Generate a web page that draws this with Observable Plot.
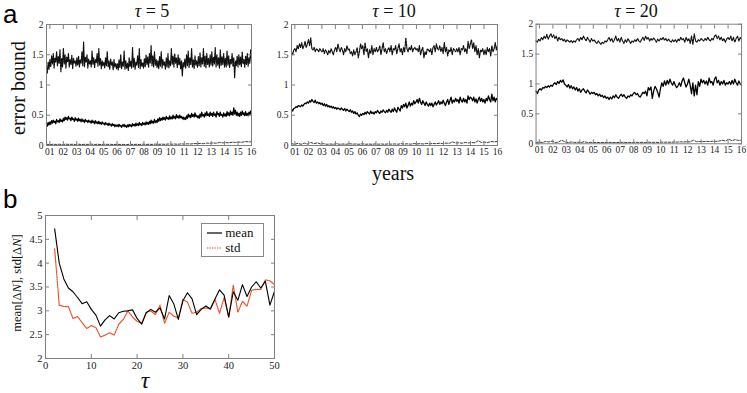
<!DOCTYPE html>
<html><head><meta charset="utf-8">
<script src="https://cdn.jsdelivr.net/npm/d3@7"></script>
<script src="https://cdn.jsdelivr.net/npm/@observablehq/plot@0.6"></script>
<style>
body{margin:0;background:#fff;}
#root{position:relative;width:747px;height:393px;overflow:hidden;background:#fff;}
.abs{position:absolute;white-space:nowrap;}
.serif{font-family:'Liberation Serif','DejaVu Serif',serif;color:#111;}
svg text{font-family:'Liberation Serif','DejaVu Serif',serif;}
</style></head>
<body><div id="root"></div>
<script>
// ---------- DATA ----------
const yearTicks = [1,2,3,4,5,6,7,8,9,10,11,12,13,14,15,16];
const yearLabels = ["01","02","03","04","05","06","07","08","09","10","11","12","13","14","15","16"];
const yearStart = 0.75, yearEnd = 16;
const errTicks = [0,0.5,1,1.5,2];

// tau = 5
const upper5 = [1.30,1.20,1.38,1.26,
1.42,1.30,1.48,1.35,1.52,1.28,1.45,1.38,1.55,1.32,1.47,1.36,1.58,1.22,1.44,1.30,
1.61,1.35,1.50,1.28,1.46,1.38,1.52,1.30,1.42,1.34,1.49,1.27,1.44,1.36,1.40,1.31,
1.45,1.33,1.48,1.30,1.42,1.36,1.55,1.32,1.71,1.30,1.46,1.38,1.50,1.28,1.43,1.35,
1.40,1.30,1.56,1.34,1.45,1.29,1.42,1.37,1.52,1.31,1.60,1.33,1.44,1.27,1.40,1.32,
1.38,1.28,1.45,1.32,1.55,1.30,1.40,1.26,1.43,1.33,1.38,1.25,1.42,1.30,1.36,1.27,
1.35,1.25,1.42,1.29,1.50,1.27,1.38,1.31,1.56,1.26,1.40,1.28,1.36,1.24,1.45,1.30,
1.40,1.28,1.62,1.30,1.44,1.26,1.38,1.33,1.48,1.29,1.60,1.27,1.42,1.31,1.37,1.28,
1.44,1.30,1.50,1.34,1.46,1.29,1.52,1.36,1.65,1.32,1.48,1.30,1.55,1.33,1.42,1.29,
1.40,1.27,1.47,1.31,1.55,1.28,1.42,1.33,1.38,1.26,1.45,1.30,1.52,1.28,1.40,1.32,
1.60,1.34,1.48,1.30,1.52,1.36,1.45,1.29,1.50,1.33,1.44,1.27,1.40,1.15,1.38,1.30,
1.43,1.28,1.50,1.32,1.56,1.29,1.45,1.34,1.60,1.30,1.42,1.27,1.48,1.33,1.40,1.29,
1.47,1.32,1.53,1.30,1.45,1.35,1.60,1.31,1.48,1.28,1.52,1.34,1.44,1.30,1.50,1.33,
1.55,1.31,1.46,1.35,1.62,1.30,1.50,1.33,1.45,1.28,1.58,1.32,1.47,1.34,1.52,1.30,
1.44,1.30,1.56,1.33,1.48,1.29,1.42,1.35,1.52,1.31,1.45,1.12,1.40,1.32,1.48,1.30,
1.50,1.33,1.46,1.30,1.55,1.35,1.42,1.29,1.48,1.34,1.52,1.31,1.45,1.36,1.58,1.40];
const middle5 = [0.36,0.32,0.38,0.34,
0.39,0.35,0.41,0.37,0.42,0.38,0.40,0.36,0.43,0.39,0.41,0.38,0.44,0.40,0.42,0.39,
0.45,0.41,0.47,0.43,0.46,0.42,0.48,0.44,0.45,0.41,0.47,0.43,0.44,0.40,0.46,0.42,
0.44,0.40,0.45,0.41,0.43,0.39,0.44,0.40,0.42,0.38,0.43,0.40,0.41,0.38,0.42,0.39,
0.40,0.37,0.42,0.38,0.40,0.36,0.41,0.37,0.39,0.36,0.40,0.36,0.38,0.35,0.39,0.36,
0.37,0.34,0.38,0.35,0.36,0.33,0.37,0.34,0.35,0.32,0.36,0.33,0.35,0.31,0.34,0.32,
0.34,0.31,0.35,0.32,0.33,0.30,0.34,0.32,0.35,0.31,0.33,0.30,0.34,0.31,0.35,0.32,
0.34,0.31,0.36,0.33,0.35,0.32,0.37,0.33,0.36,0.33,0.38,0.34,0.36,0.33,0.38,0.35,
0.37,0.34,0.39,0.35,0.38,0.35,0.40,0.36,0.42,0.37,0.40,0.37,0.43,0.38,0.41,0.38,
0.44,0.40,0.46,0.41,0.45,0.42,0.47,0.43,0.46,0.42,0.48,0.44,0.46,0.43,0.49,0.44,
0.47,0.44,0.50,0.45,0.48,0.44,0.51,0.46,0.49,0.45,0.50,0.46,0.48,0.44,0.47,0.43,
0.46,0.43,0.49,0.45,0.52,0.47,0.50,0.46,0.53,0.48,0.51,0.47,0.54,0.48,0.50,0.46,
0.49,0.45,0.52,0.47,0.55,0.49,0.51,0.47,0.54,0.49,0.56,0.50,0.52,0.48,0.55,0.50,
0.53,0.48,0.55,0.50,0.52,0.47,0.56,0.51,0.53,0.48,0.55,0.50,0.51,0.47,0.54,0.49,
0.52,0.48,0.56,0.50,0.54,0.49,0.57,0.51,0.55,0.50,0.62,0.52,0.58,0.50,0.55,0.49,
0.53,0.48,0.55,0.50,0.57,0.51,0.54,0.49,0.56,0.50,0.53,0.49,0.55,0.51,0.57,0.52];
const lower5 = [0.020,0.015,0.020,0.018,
0.020,0.015,0.022,0.018,0.020,0.017,0.021,0.016,0.020,0.018,0.022,0.017,
0.020,0.016,0.021,0.018,0.019,0.016,0.020,0.017,0.018,0.015,0.020,0.017,
0.019,0.016,0.021,0.018,0.020,0.018,0.023,0.019,0.022,0.019,0.025,0.021,
0.024,0.020,0.027,0.023,0.028,0.025,0.032,0.030,0.035,0.030,0.040,0.036,
0.042,0.038,0.050,0.044,0.048,0.045,0.055,0.050,0.058,0.052,0.065,0.060,0.062];

// tau = 10
const upper10 = [1.55,1.50,1.58,
1.60,1.55,1.65,1.60,1.68,1.62,1.70,1.60,1.65,1.72,1.62,1.68,
1.75,1.65,1.78,1.60,1.58,1.62,1.55,1.60,1.58,1.55,1.60,1.57,
1.55,1.60,1.52,1.58,1.55,1.50,1.57,1.53,1.60,1.55,1.50,1.58,
1.62,1.55,1.68,1.60,1.55,1.62,1.58,1.50,1.60,1.55,1.65,1.58,
1.60,1.52,1.55,1.48,1.58,1.50,1.55,1.62,1.45,1.55,1.68,1.60,
1.65,1.50,1.70,1.55,1.60,1.45,1.58,1.52,1.65,1.50,1.60,1.55,
1.62,1.55,1.58,1.65,1.50,1.60,1.70,1.55,1.60,1.52,1.58,1.62,
1.55,1.65,1.50,1.60,1.58,1.65,1.52,1.60,1.68,1.55,1.60,1.50,
1.62,1.55,1.78,1.60,1.55,1.62,1.58,1.65,1.55,1.60,1.62,1.58,
1.60,1.55,1.65,1.50,1.58,1.62,1.45,1.55,1.50,1.60,1.58,1.55,
1.60,1.50,1.62,1.65,1.55,1.68,1.60,1.58,1.65,1.55,1.62,1.52,
1.70,1.55,1.62,1.48,1.58,1.55,1.62,1.50,1.60,1.58,1.55,1.60,
1.55,1.62,1.50,1.60,1.58,1.65,1.55,1.60,1.52,1.72,1.60,1.68,
1.75,1.60,1.70,1.55,1.65,1.50,1.60,1.45,1.58,1.55,1.60,1.50,
1.58,1.50,1.62,1.55,1.60,1.48,1.65,1.55,1.60,1.70,1.58,1.65];
const middle10 = [0.60,0.57,0.61,
0.62,0.64,0.63,0.66,0.65,0.64,0.67,0.65,0.68,0.70,0.69,0.72,
0.70,0.74,0.72,0.76,0.73,0.71,0.75,0.70,0.72,0.69,0.71,0.68,
0.70,0.66,0.69,0.65,0.68,0.64,0.66,0.63,0.65,0.62,0.64,0.61,
0.63,0.60,0.62,0.61,0.59,0.62,0.60,0.58,0.61,0.57,0.60,0.58,
0.56,0.59,0.55,0.57,0.53,0.56,0.52,0.54,0.50,0.48,0.52,0.50,
0.53,0.51,0.55,0.52,0.56,0.54,0.52,0.57,0.53,0.55,0.52,0.56,
0.54,0.58,0.55,0.53,0.57,0.55,0.59,0.56,0.54,0.58,0.55,0.60,
0.57,0.55,0.60,0.56,0.62,0.58,0.55,0.63,0.60,0.57,0.66,0.62,
0.68,0.64,0.70,0.62,0.66,0.72,0.65,0.70,0.67,0.74,0.69,0.72,
0.76,0.70,0.78,0.72,0.68,0.74,0.70,0.66,0.72,0.68,0.65,0.70,
0.66,0.70,0.64,0.68,0.72,0.67,0.70,0.74,0.68,0.72,0.69,0.75,
0.70,0.66,0.72,0.76,0.68,0.74,0.80,0.70,0.75,0.72,0.78,0.73,
0.76,0.70,0.80,0.74,0.72,0.78,0.72,0.76,0.70,0.82,0.76,0.80,
0.78,0.74,0.80,0.72,0.77,0.70,0.76,0.80,0.73,0.78,0.72,0.76,
0.70,0.78,0.74,0.82,0.76,0.72,0.85,0.74,0.80,0.72,0.78,0.75];
const lower10 = [0.030,0.020,0.035,0.020,
0.040,0.025,0.050,0.030,0.045,0.025,0.030,0.020,0.025,0.020,0.030,0.020,
0.025,0.020,0.030,0.022,0.025,0.020,0.028,0.020,0.024,0.020,0.026,0.021,
0.025,0.020,0.027,0.022,0.026,0.021,0.030,0.024,0.028,0.022,0.032,0.025,
0.030,0.025,0.035,0.028,0.033,0.030,0.038,0.032,0.040,0.035,0.060,0.040,
0.045,0.038,0.050,0.042,0.048,0.045,0.080,0.050,0.055,0.050,0.065,0.060,0.070];

// tau = 20
const upper20 = [1.72,1.70,1.75,
1.72,1.78,1.74,1.80,1.76,1.83,1.75,1.80,1.84,1.78,
1.82,1.76,1.80,1.72,1.78,1.74,1.76,1.72,1.75,1.70,
1.74,1.72,1.70,1.73,1.69,1.72,1.70,1.74,1.76,1.72,
1.78,1.74,1.80,1.76,1.72,1.78,1.74,1.70,1.76,1.72,
1.74,1.70,1.68,1.72,1.69,1.66,1.70,1.68,1.72,1.70,
1.74,1.78,1.72,1.76,1.70,1.74,1.80,1.72,1.76,1.70,
1.78,1.72,1.68,1.74,1.70,1.76,1.72,1.68,1.72,1.70,
1.74,1.71,1.76,1.72,1.70,1.74,1.78,1.73,1.80,1.75,
1.78,1.72,1.76,1.73,1.77,1.74,1.70,1.75,1.72,1.76,
1.74,1.78,1.73,1.76,1.72,1.75,1.72,1.70,1.74,1.71,
1.74,1.70,1.75,1.72,1.78,1.74,1.76,1.70,1.78,1.72,
1.76,1.68,1.80,1.66,1.84,1.72,1.70,1.74,1.72,1.76,
1.74,1.72,1.76,1.73,1.78,1.74,1.72,1.76,1.74,1.80,
1.82,1.76,1.80,1.74,1.78,1.72,1.76,1.70,1.75,1.78,
1.74,1.80,1.72,1.78,1.70,1.76,1.80,1.72,1.78,1.75];
const middle20 = [0.88,0.84,0.90,
0.92,0.90,0.94,0.93,0.96,0.94,0.97,0.95,0.98,0.96,
1.00,1.02,0.99,1.04,1.01,1.06,1.03,1.07,1.00,0.98,
0.95,0.99,0.93,0.97,0.92,0.95,0.90,0.94,0.88,0.92,
0.86,0.90,0.92,0.88,0.85,0.90,0.87,0.83,0.86,0.84,
0.86,0.82,0.84,0.80,0.83,0.79,0.81,0.77,0.80,0.76,
0.78,0.74,0.78,0.75,0.80,0.77,0.82,0.78,0.76,0.80,
0.83,0.79,0.82,0.78,0.76,0.80,0.78,0.82,0.80,0.84,
0.86,0.82,0.84,0.80,0.78,0.82,0.86,0.84,0.88,0.80,
0.94,0.90,0.95,0.76,0.88,0.96,0.92,0.86,0.78,0.92,
1.02,0.96,1.05,0.98,1.06,1.00,1.08,1.02,0.98,1.04,
0.98,0.94,0.97,1.02,0.96,1.05,1.10,1.02,0.95,1.00,
1.08,0.98,0.84,1.02,0.80,0.98,0.82,1.04,0.96,1.08,
1.02,1.06,1.00,1.05,0.98,1.10,1.02,1.04,0.98,1.08,
1.12,1.02,1.06,0.98,1.04,1.00,1.06,0.98,1.02,1.00,
1.04,0.99,1.06,1.00,1.08,1.02,0.98,1.05,1.00,0.98];
const lower20 = [0.020,0.030,0.020,0.040,
0.030,0.045,0.020,0.030,0.060,0.030,0.020,0.030,0.022,0.025,0.020,0.035,
0.020,0.024,0.020,0.022,0.018,0.022,0.020,0.024,0.020,0.022,0.020,0.024,
0.021,0.023,0.020,0.025,0.022,0.024,0.021,0.026,0.023,0.025,0.022,0.027,
0.025,0.028,0.024,0.030,0.028,0.032,0.030,0.034,0.032,0.060,0.035,0.038,
0.036,0.040,0.038,0.042,0.040,0.045,0.060,0.045,0.080,0.050,0.070,0.055,0.060];

// panel b
const tau = [2,3,4,5,6,7,8,9,10,11,12,13,14,15,16,17,18,19,20,21,22,23,24,25,26,27,28,29,30,31,32,33,34,35,36,37,38,39,40,41,42,43,44,45,46,47,48,49,50];
const meanDN = [4.72,4.00,3.67,3.48,3.40,3.28,3.15,3.19,3.03,2.91,2.68,2.81,2.90,2.83,2.96,2.99,3.00,3.02,2.84,2.72,2.96,3.03,2.97,3.06,2.83,3.32,3.15,2.82,3.21,3.38,3.25,2.92,3.03,3.10,3.04,3.25,3.44,3.33,2.87,3.40,3.22,3.55,3.30,3.50,3.61,3.48,3.62,3.12,3.41];
const stdDN = [4.30,3.12,3.09,3.09,2.84,2.88,2.75,2.63,2.69,2.65,2.45,2.49,2.54,2.49,2.72,2.82,3.00,2.87,2.78,2.74,2.97,3.00,2.92,3.12,2.74,2.97,2.89,2.85,3.24,3.18,2.95,2.97,3.05,3.06,3.04,3.24,2.95,3.28,2.87,3.54,2.97,3.20,3.10,3.43,3.45,3.45,3.65,3.63,3.55];
const tauTicks = [0,10,20,30,40,50];
const dnTicks = [2,2.5,3,3.5,4,4.5,5];
const seriesNames = ["mean","std"];

// ---------- helpers ----------
function spread(vals, x0, x1) {
  const n = vals.length;
  return vals.map((v, i) => ({x: x0 + i * (x1 - x0) / (n - 1), y: v}));
}
const root = document.getElementById("root");
function place(el, left, top) {
  const d = document.createElement("div");
  d.className = "abs"; d.style.left = left + "px"; d.style.top = top + "px";
  d.appendChild(el); root.appendChild(d); return d;
}
function label(html, left, top, css) {
  const d = document.createElement("div");
  d.className = "abs serif"; d.innerHTML = html;
  d.style.left = left + "px"; d.style.top = top + "px";
  d.style.cssText += css || "";
  root.appendChild(d); return d;
}
const axisGray = "#808080";
const numFmt = d => String(d);
const fontStyle = {fontFamily: "'Liberation Serif', 'DejaVu Serif', serif", fontSize: "9.5px", color: "#222", background: "transparent", overflow: "visible"};

function topPanel(upper, middle, lower, svgLeft, frameLeft, frameRight) {
  const ml = frameLeft - svgLeft;
  const w = frameRight - svgLeft + 6;
  const fmt = d => yearLabels[yearTicks.indexOf(d)];
  const p = Plot.plot({
    width: w, height: 165,
    marginLeft: ml, marginRight: 6, marginTop: 24, marginBottom: 20,
    x: {domain: [yearStart, yearEnd]},
    y: {domain: [0, 2]},
    style: fontStyle,
    marks: [
      Plot.line(spread(lower, yearStart, yearEnd), {x: "x", y: "y", stroke: "#222", strokeWidth: 0.9, strokeDasharray: "2.5,1.5"}),
      Plot.line(spread(middle, yearStart, yearEnd), {x: "x", y: "y", stroke: "#000", strokeWidth: 1.3}),
      Plot.line(spread(upper, yearStart, yearEnd), {x: "x", y: "y", stroke: "#111", strokeWidth: 1.2, strokeDasharray: "2,1"}),
      Plot.frame({stroke: axisGray}),
      Plot.axisX({anchor: "bottom", ticks: yearTicks, tickFormat: fmt, tickSize: -4, tickPadding: 7, label: null, stroke: axisGray, fill: "#222"}),
      Plot.axisX({anchor: "top", ticks: yearTicks, tickFormat: () => "", tickSize: -4, label: null, stroke: axisGray}),
      Plot.axisY({anchor: "left", ticks: errTicks, tickFormat: numFmt, tickSize: -4, tickPadding: 7, label: null, stroke: axisGray, fill: "#222"}),
      Plot.axisY({anchor: "right", ticks: errTicks, tickFormat: () => "", tickSize: -4, label: null, stroke: axisGray})
    ]
  });
  place(p, svgLeft, 0);
}

topPanel(upper5, middle5, lower5, 0, 46, 251);
topPanel(upper10, middle10, lower10, 250, 291, 497);
topPanel(upper20, middle20, lower20, 497, 536, 744);

// Panel b
const bData = [
  ...tau.map((t, i) => ({tau: t, v: meanDN[i], s: seriesNames[0]})),
  ...tau.map((t, i) => ({tau: t, v: stdDN[i], s: seriesNames[1]}))
];
const pb = Plot.plot({
  width: 282, height: 190,
  marginLeft: 45, marginRight: 8, marginTop: 25, marginBottom: 22,
  x: {domain: [0, 50]},
  y: {domain: [2, 5]},
  style: {...fontStyle, fontSize: "10.5px"},
  marks: [
    Plot.line(bData.filter(d => d.s === "std"), {x: "tau", y: "v", stroke: "#e8542a", strokeWidth: 1.2, strokeDasharray: "1.5,1"}),
    Plot.line(bData.filter(d => d.s === "mean"), {x: "tau", y: "v", stroke: "#000", strokeWidth: 1.1}),
    Plot.frame({stroke: axisGray}),
    Plot.axisX({anchor: "bottom", ticks: tauTicks, tickFormat: numFmt, tickSize: -4, tickPadding: 7, label: null, stroke: axisGray, fill: "#222"}),
    Plot.axisX({anchor: "top", ticks: tauTicks, tickFormat: () => "", tickSize: -4, label: null, stroke: axisGray}),
    Plot.axisY({anchor: "left", ticks: dnTicks, tickFormat: numFmt, tickSize: -4, tickPadding: 7, label: null, stroke: axisGray, fill: "#222"}),
    Plot.axisY({anchor: "right", ticks: dnTicks, tickFormat: () => "", tickSize: -4, label: null, stroke: axisGray})
  ]
});
place(pb, 0, 190);

// legend for b
const leg = document.createElement("div");
leg.className = "abs serif";
leg.style.cssText = "left:201px;top:223px;width:61px;height:32px;border:1px solid #888;background:#fff;font-size:13px;line-height:15px;";
leg.innerHTML =
  '<div style="position:absolute;left:5px;top:1px;"><svg width="15" height="15" style="vertical-align:top"><line x1="0" y1="8" x2="15" y2="8" stroke="#000" stroke-width="1.2"/></svg> ' + seriesNames[0] + '</div>' +
  '<div style="position:absolute;left:5px;top:16px;"><svg width="15" height="15" style="vertical-align:top"><line x1="0" y1="8" x2="15" y2="8" stroke="#e8542a" stroke-width="1.2" stroke-dasharray="1.5,1"/></svg> ' + seriesNames[1] + '</div>';
root.appendChild(leg);

// Text labels
const panelLetter = "font-family:'Liberation Sans',Arial,sans-serif;font-size:26px;line-height:18px;color:#000;";
label("a", 3, 5, panelLetter);
label("b", 3, 190, panelLetter);
const ttl = "font-size:18px;line-height:18px;transform:translateX(-50%);";
label("<i>τ</i> = 5", 152, 2, ttl);
label("<i>τ</i> = 10", 394, 2, ttl);
label("<i>τ</i> = 20", 636, 2, ttl);
label("error bound", 18, 88, "font-size:20px;line-height:20px;transform:translate(-50%,-50%) rotate(-90deg);");
label("years", 393, 163, "font-size:20px;line-height:20px;transform:translateX(-50%);");
label("<i>τ</i>", 145, 369, "font-size:24px;line-height:22px;transform:translateX(-50%);");
label("mean[Δ<i>N</i>], std[Δ<i>N</i>]", 17, 283, "font-size:12.5px;line-height:13px;transform:translate(-50%,-50%) rotate(-90deg);");
</script>
</body></html>
